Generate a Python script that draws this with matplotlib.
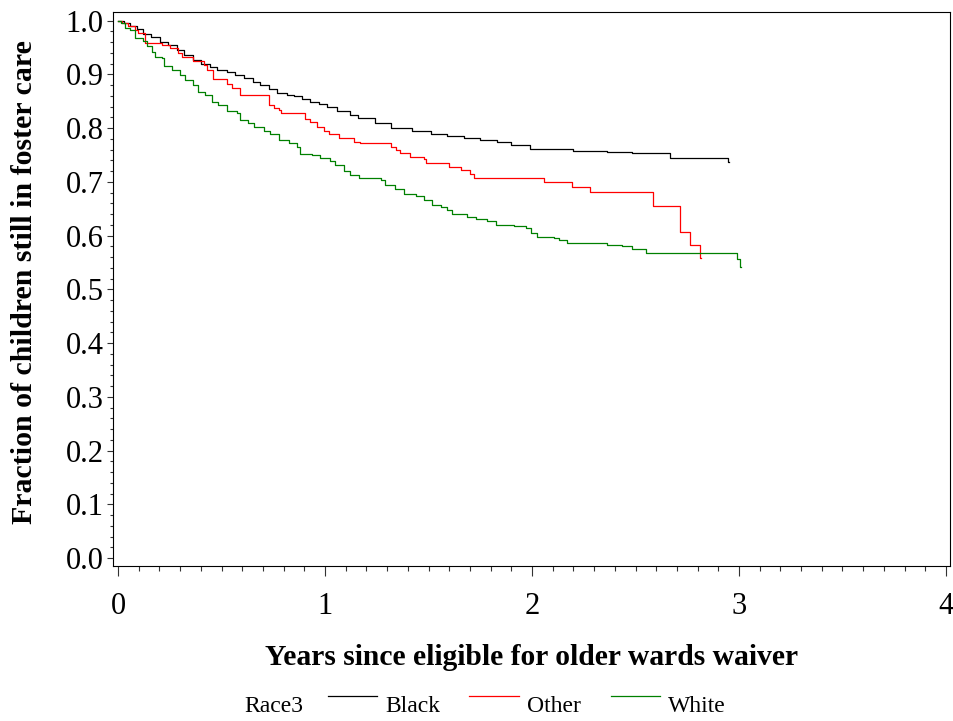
import matplotlib
matplotlib.use("Agg")
import matplotlib.pyplot as plt
from matplotlib.lines import Line2D
from matplotlib.ticker import MultipleLocator

plt.rcParams['font.family'] = ['Liberation Serif', 'DejaVu Serif']

# ---- data (step change points) ----
series_names = ["Black", "Other", "White"]
series_colors = ["#000000", "#FF0000", "#008000"]

black_t = [0.0, 0.03, 0.06, 0.09, 0.122, 0.16, 0.203, 0.24, 0.284, 0.32, 0.364, 0.40,
           0.445, 0.48, 0.526, 0.565, 0.606, 0.65, 0.687, 0.73, 0.768, 0.816, 0.848,
           0.89, 0.929, 0.97, 1.01, 1.06, 1.12, 1.16, 1.24, 1.32, 1.42, 1.51, 1.59,
           1.67, 1.75, 1.83, 1.90, 1.99, 2.20, 2.36, 2.485, 2.667, 2.948, 2.952]
black_v = [1.000, 0.995, 0.990, 0.984, 0.976, 0.969, 0.961, 0.954, 0.946, 0.937, 0.927, 0.920,
           0.914, 0.909, 0.904, 0.899, 0.893, 0.885, 0.880, 0.872, 0.865, 0.862, 0.859,
           0.854, 0.849, 0.845, 0.840, 0.832, 0.824, 0.819, 0.810, 0.801, 0.794, 0.789, 0.785,
           0.782, 0.778, 0.774, 0.769, 0.762, 0.757, 0.755, 0.753, 0.744, 0.737, 0.737]

other_t = [0.0, 0.02, 0.05, 0.08, 0.098, 0.13, 0.21, 0.25, 0.29, 0.31, 0.36, 0.413, 0.43,
           0.46, 0.526, 0.55, 0.59, 0.727, 0.751, 0.776, 0.787, 0.905, 0.929, 0.961, 0.993,
           1.02, 1.066, 1.14, 1.17, 1.32, 1.345, 1.36, 1.41, 1.48, 1.49, 1.60, 1.655, 1.70,
           1.72, 2.06, 2.195, 2.28, 2.585, 2.714, 2.764, 2.811, 2.817]
other_v = [1.000, 0.995, 0.990, 0.983, 0.977, 0.959, 0.955, 0.949, 0.940, 0.933, 0.925, 0.918, 0.908,
           0.891, 0.883, 0.875, 0.862, 0.843, 0.838, 0.834, 0.829, 0.817, 0.811, 0.803, 0.795,
           0.789, 0.782, 0.775, 0.772, 0.764, 0.759, 0.753, 0.747, 0.743, 0.736, 0.728, 0.722, 0.715,
           0.707, 0.699, 0.690, 0.681, 0.656, 0.607, 0.583, 0.558, 0.558]

white_t = [0.0, 0.015, 0.034, 0.058, 0.082, 0.122, 0.139, 0.163, 0.176, 0.211, 0.224, 0.26,
           0.30, 0.324, 0.364, 0.388, 0.42, 0.453, 0.485, 0.526, 0.574, 0.59, 0.63, 0.655,
           0.703, 0.735, 0.776, 0.824, 0.865, 0.88, 0.937, 0.977, 1.026, 1.05, 1.09, 1.12,
           1.163, 1.21, 1.268, 1.29, 1.34, 1.38, 1.437, 1.477, 1.518, 1.558, 1.59, 1.614,
           1.687, 1.727, 1.784, 1.824, 1.912, 1.969, 1.993, 2.026, 2.106, 2.13, 2.17, 2.364,
           2.437, 2.485, 2.55, 2.988, 3.005, 3.01]
white_v = [1.000, 0.995, 0.986, 0.983, 0.967, 0.962, 0.952, 0.942, 0.933, 0.930, 0.915, 0.909,
           0.899, 0.890, 0.880, 0.868, 0.862, 0.849, 0.843, 0.831, 0.828, 0.815, 0.809, 0.803,
           0.794, 0.789, 0.778, 0.773, 0.764, 0.752, 0.750, 0.744, 0.738, 0.731, 0.720, 0.712,
           0.708, 0.707, 0.703, 0.694, 0.686, 0.677, 0.673, 0.666, 0.657, 0.654, 0.648, 0.640,
           0.635, 0.630, 0.627, 0.620, 0.617, 0.614, 0.604, 0.598, 0.595, 0.592, 0.587, 0.583,
           0.580, 0.576, 0.567, 0.556, 0.542, 0.542]

series_t = [black_t, other_t, white_t]
series_v = [black_v, other_v, white_v]

x_ticks = [0, 1, 2, 3, 4]
y_ticks = [0.0, 0.1, 0.2, 0.3, 0.4, 0.5, 0.6, 0.7, 0.8, 0.9, 1.0]

legend_title = "Race3"
x_label = "Years since eligible for older wards waiver"
y_label = "Fraction of children still in foster care"

# ---- figure ----
W, H = 954, 721
fig = plt.figure(figsize=(W / 100, H / 100), dpi=100)
ax = fig.add_axes([112.7 / W, 1 - 566 / H, (949.5 - 112.7) / W, (566 - 12.3) / H])

for t, v, c in zip(series_t, series_v, series_colors):
    ax.step(t, v, where='post', color=c, lw=0.9)

ax.set_xlim(-0.026, 4.017)
ax.set_ylim(-0.0149, 1.0156)
ax.set_xticks(x_ticks)
ax.set_xticklabels([str(x) for x in x_ticks])
ax.set_yticks(y_ticks)
ax.set_yticklabels([f"{y:.1f}" for y in y_ticks])
ax.xaxis.set_minor_locator(MultipleLocator(0.1))
ax.yaxis.set_minor_locator(MultipleLocator(0.02))

ax.tick_params(axis='x', which='major', direction='out', length=7.5, width=0.8,
               labelsize=22, pad=11, color='#333333')
ax.tick_params(axis='x', which='minor', direction='out', length=3.5, width=0.8, color='#333333')
ax.tick_params(axis='y', which='major', direction='out', length=4.5, width=0.8,
               labelsize=22, pad=2, color='#333333')
ax.tick_params(axis='y', which='minor', direction='out', length=2.5, width=0.8, color='#333333')
for s in ax.spines.values():
    s.set_linewidth(0.8)

ax.set_xlabel(x_label, fontsize=21.3, fontweight='bold', labelpad=17)
ax.set_ylabel(y_label, fontsize=21.5, fontweight='bold')
ax.yaxis.set_label_coords(-0.089, 0.512)

# ---- legend (bottom row) ----
ly_line = 1 - 696 / H
ly_text = 1 - 707 / H
fig.text(244 / W, ly_text, legend_title, fontsize=17, va='center', ha='left')
spacing = 141.5
for i, (name, c) in enumerate(zip(series_names, series_colors)):
    x0 = 328 + i * spacing
    fig.add_artist(Line2D([x0 / W, (x0 + 49) / W], [ly_line, ly_line],
                          transform=fig.transFigure, color=c, lw=0.9))
    fig.text((x0 + 57) / W, ly_text, name, fontsize=17, va='center', ha='left')

fig.savefig("out.png", dpi=100)
